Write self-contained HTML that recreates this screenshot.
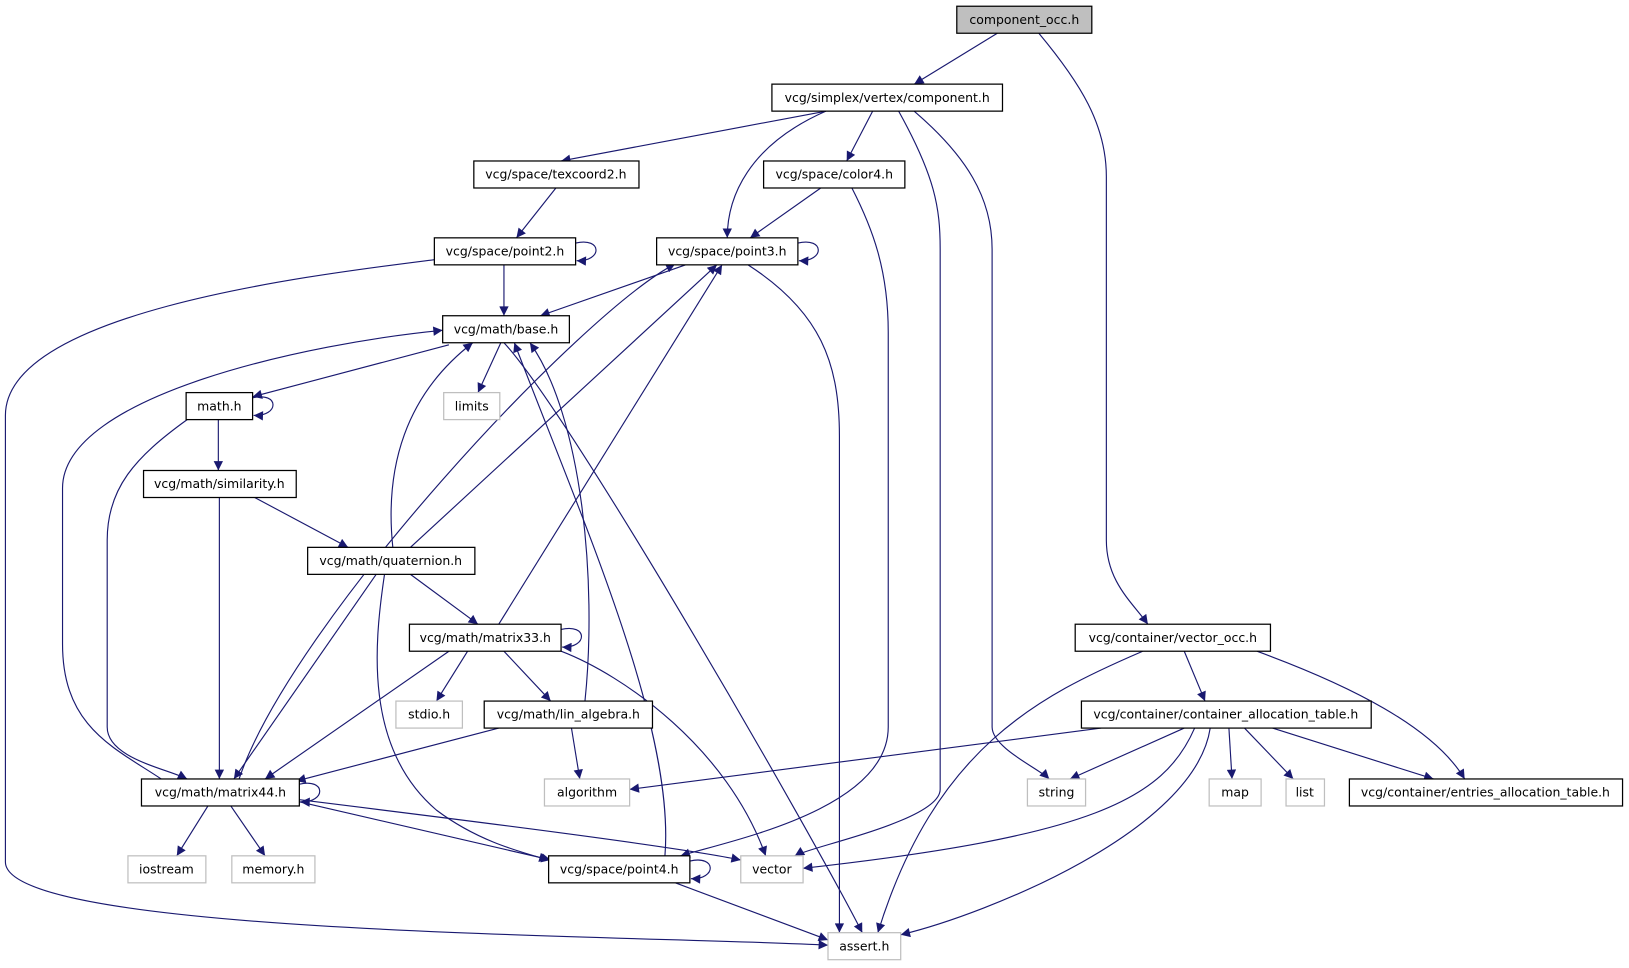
<!DOCTYPE html>
<html><head><meta charset="utf-8"><style>
html,body{margin:0;padding:0;background:#fff;}
svg{display:block;}
text{font-family:"DejaVu Sans","Liberation Sans",sans-serif;font-size:12px;fill:#000;text-anchor:middle;}
.e{fill:none;stroke:#191970;stroke-width:1.1;marker-end:url(#a);}
.n{fill:#fff;stroke:#000;stroke-width:1.2;}
.g{fill:#fff;stroke:#bfbfbf;stroke-width:1.2;}
</style></head><body>
<svg width="1629" height="968" viewBox="0 0 1568 932" xmlns="http://www.w3.org/2000/svg">
<defs><marker id="a" viewBox="0 0 10 10" refX="10" refY="5" markerWidth="12" markerHeight="9" orient="auto" markerUnits="userSpaceOnUse"><path d="M0,0 L10,5 L0,10 z" fill="#191970"/></marker></defs>
<g>
<path class="e" d="M960,32 L880,81"/>
<path class="e" d="M1000,32 C1040,80 1065,120 1065,170 L1065,520 C1065,560 1090,580 1105,601"/>
<path class="e" d="M795,107 L540,155"/>
<path class="e" d="M795,107 C720,140 700,190 700,229"/>
<path class="e" d="M840,107 L815,155"/>
<path class="e" d="M865,107 C900,170 905,200 905,240 L905,760 C905,790 780,815 765,824"/>
<path class="e" d="M880,107 C930,150 955,190 955,240 L955,700 C955,720 1000,740 1010,750"/>
<path class="e" d="M535,181 L497,229"/>
<path class="e" d="M790,181 L722,229"/>
<path class="e" d="M820,181 C840,220 855,260 855,320 L855,700 C855,780 700,810 655,824"/>
<path class="e" d="M485,255 L485,304"/>
<path class="e" d="M418,250 C300,265 5,300 5,400 L5,830 C5,900 600,900 797,910"/>
<path class="e" d="M554,234 C580,228 580,252 555,251"/>
<path class="e" d="M768,234 C794,228 794,252 769,251"/>
<path class="e" d="M660,255 L520,304"/>
<path class="e" d="M720,255 C790,300 808,350 808,420 L808,898"/>
<path class="e" d="M482,330 L460,378"/>
<path class="e" d="M432,332 L243,382"/>
<path class="e" d="M485,330 C550,400 780,800 830,898"/>
<path class="e" d="M243,383 C269,377 269,401 244,400"/>
<path class="e" d="M210,404 L210,453"/>
<path class="e" d="M180,404 C130,440 103,470 103,520 L103,700 C103,730 160,740 180,750"/>
<path class="e" d="M245,479 L335,527"/>
<path class="e" d="M211,479 L211,750"/>
<path class="e" d="M378,527 C370,450 390,380 455,330"/>
<path class="e" d="M395,527 L690,255"/>
<path class="e" d="M395,553 L460,601"/>
<path class="e" d="M362,553 L225,750"/>
<path class="e" d="M370,553 C360,620 350,720 420,780 C460,810 500,820 528,828"/>
<path class="e" d="M540,606 C566,600 566,624 541,623"/>
<path class="e" d="M480,601 L695,255"/>
<path class="e" d="M432,627 L255,750"/>
<path class="e" d="M450,627 L420,675"/>
<path class="e" d="M485,627 L530,675"/>
<path class="e" d="M540,627 C600,650 700,720 737,824"/>
<path class="e" d="M563,675 C575,560 560,400 510,330"/>
<path class="e" d="M480,701 L285,752"/>
<path class="e" d="M550,701 L558,750"/>
<path class="e" d="M230,750 C280,600 560,300 650,254"/>
<path class="e" d="M155,750 C110,720 60,700 60,620 L60,470 C60,380 300,330 426,318"/>
<path class="e" d="M288,755 C314,749 314,773 289,772"/>
<path class="e" d="M200,776 L170,824"/>
<path class="e" d="M222,776 L255,824"/>
<path class="e" d="M288,772 L530,828"/>
<path class="e" d="M288,770 C450,790 650,815 713,828"/>
<path class="e" d="M664,829 C690,823 690,847 665,846"/>
<path class="e" d="M640,824 C650,700 560,500 495,330"/>
<path class="e" d="M650,850 L797,905"/>
<path class="e" d="M1100,627 C1000,670 900,720 845,898"/>
<path class="e" d="M1140,627 L1160,675"/>
<path class="e" d="M1210,627 C1300,660 1380,700 1410,750"/>
<path class="e" d="M1060,701 L606,760"/>
<path class="e" d="M1140,701 L1030,750"/>
<path class="e" d="M1150,701 C1120,770 1050,805 773,836"/>
<path class="e" d="M1165,701 C1150,800 950,880 867,900"/>
<path class="e" d="M1183,701 L1186,750"/>
<path class="e" d="M1198,701 L1245,750"/>
<path class="e" d="M1225,701 L1380,750"/>
</g>
<g>
<rect x="921" y="6" width="130" height="26" fill="#bfbfbf" stroke="#000" stroke-width="1.2"/><text x="986" y="23">component_occ.h</text>
<rect class="n" x="743" y="81" width="222" height="26"/><text x="854" y="98">vcg/simplex/vertex/component.h</text>
<rect class="n" x="456" y="155" width="159" height="26"/><text x="535" y="172">vcg/space/texcoord2.h</text>
<rect class="n" x="735" y="155" width="136" height="26"/><text x="803" y="172">vcg/space/color4.h</text>
<rect class="n" x="418" y="229" width="136" height="26"/><text x="486" y="246">vcg/space/point2.h</text>
<rect class="n" x="632" y="229" width="136" height="26"/><text x="700" y="246">vcg/space/point3.h</text>
<rect class="n" x="426" y="304" width="122" height="26"/><text x="487" y="321">vcg/math/base.h</text>
<rect class="g" x="427" y="378" width="54" height="26"/><text x="454" y="395">limits</text>
<rect class="n" x="179" y="378" width="64" height="26"/><text x="211" y="395">math.h</text>
<rect class="n" x="138" y="453" width="147" height="26"/><text x="211" y="470">vcg/math/similarity.h</text>
<rect class="n" x="296" y="527" width="161" height="26"/><text x="376" y="544">vcg/math/quaternion.h</text>
<rect class="n" x="394" y="601" width="146" height="26"/><text x="467" y="618">vcg/math/matrix33.h</text>
<rect class="g" x="381" y="675" width="64" height="26"/><text x="413" y="692">stdio.h</text>
<rect class="n" x="466" y="675" width="162" height="26"/><text x="547" y="692">vcg/math/lin_algebra.h</text>
<rect class="g" x="524" y="750" width="82" height="26"/><text x="565" y="767">algorithm</text>
<rect class="n" x="136" y="750" width="152" height="26"/><text x="212" y="767">vcg/math/matrix44.h</text>
<rect class="g" x="123" y="824" width="75" height="26"/><text x="160" y="841">iostream</text>
<rect class="g" x="223" y="824" width="80" height="26"/><text x="263" y="841">memory.h</text>
<rect class="n" x="528" y="824" width="136" height="26"/><text x="596" y="841">vcg/space/point4.h</text>
<rect class="g" x="713" y="824" width="60" height="26"/><text x="743" y="841">vector</text>
<rect class="g" x="797" y="898" width="70" height="26"/><text x="832" y="915">assert.h</text>
<rect class="n" x="1035" y="601" width="188" height="26"/><text x="1129" y="618">vcg/container/vector_occ.h</text>
<rect class="n" x="1041" y="675" width="279" height="26"/><text x="1180" y="692">vcg/container/container_allocation_table.h</text>
<rect class="g" x="989" y="750" width="56" height="26"/><text x="1017" y="767">string</text>
<rect class="g" x="1164" y="750" width="50" height="26"/><text x="1189" y="767">map</text>
<rect class="g" x="1238" y="750" width="37" height="26"/><text x="1256" y="767">list</text>
<rect class="n" x="1299" y="750" width="263" height="26"/><text x="1430" y="767">vcg/container/entries_allocation_table.h</text>
</g>
</svg>
</body></html>
